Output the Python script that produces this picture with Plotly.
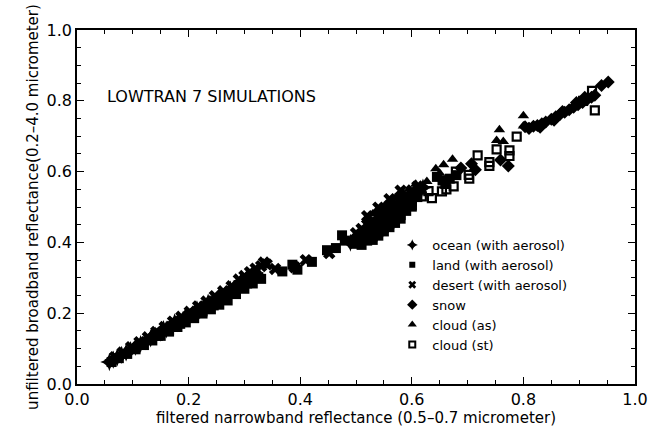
import plotly.graph_objects as go

# ---------------- data ----------------
ocean_x = [0.058, 0.065, 0.072, 0.080, 0.088, 0.096, 0.105, 0.114, 0.123, 0.132,
           0.141, 0.150, 0.160, 0.170, 0.180, 0.190, 0.200, 0.210, 0.220, 0.230,
           0.240, 0.250, 0.260, 0.270, 0.280, 0.290, 0.300, 0.310, 0.320,
           0.135, 0.155, 0.175, 0.195, 0.215, 0.235, 0.255, 0.275, 0.295, 0.315,
           0.490, 0.500, 0.510, 0.520, 0.530, 0.540, 0.550, 0.560, 0.570, 0.580,
           0.590, 0.600, 0.610, 0.620]
ocean_y = [0.062, 0.069, 0.075, 0.082, 0.089, 0.096, 0.105, 0.113, 0.121, 0.129,
           0.137, 0.145, 0.154, 0.163, 0.172, 0.181, 0.190, 0.199, 0.208, 0.217,
           0.226, 0.235, 0.244, 0.253, 0.266, 0.276, 0.287, 0.297, 0.307,
           0.136, 0.155, 0.174, 0.192, 0.211, 0.230, 0.248, 0.267, 0.291, 0.312,
           0.399, 0.411, 0.423, 0.435, 0.447, 0.459, 0.471, 0.483, 0.495, 0.507,
           0.519, 0.531, 0.543, 0.555]

land_x = [0.062, 0.075, 0.090, 0.105, 0.120, 0.135, 0.150, 0.165, 0.180, 0.195,
          0.210, 0.225, 0.240, 0.255, 0.270, 0.285, 0.300, 0.315, 0.330,
          0.145, 0.165, 0.185, 0.205, 0.225, 0.245, 0.265, 0.285, 0.305, 0.325,
          0.368, 0.386, 0.395, 0.421, 0.448, 0.464, 0.475, 0.480,
          0.500, 0.510, 0.520, 0.530, 0.540, 0.550, 0.560, 0.570, 0.580, 0.590,
          0.600, 0.610,
          0.510, 0.520, 0.530, 0.540, 0.550, 0.560, 0.570, 0.580, 0.590, 0.600,
          0.530, 0.540, 0.550, 0.560, 0.570, 0.580,
          0.645, 0.655, 0.668, 0.680, 0.660]
land_y = [0.062, 0.073, 0.085, 0.098, 0.110, 0.123, 0.136, 0.148, 0.161, 0.174,
          0.186, 0.199, 0.211, 0.224, 0.236, 0.254, 0.269, 0.284, 0.297,
          0.136, 0.153, 0.170, 0.188, 0.205, 0.222, 0.240, 0.262, 0.284, 0.302,
          0.318, 0.337, 0.323, 0.345, 0.378, 0.384, 0.420, 0.405,
          0.396, 0.408, 0.420, 0.432, 0.444, 0.456, 0.468, 0.480, 0.492, 0.504,
          0.516, 0.528,
          0.393, 0.405, 0.417, 0.429, 0.441, 0.453, 0.465, 0.477, 0.489, 0.501,
          0.407, 0.419, 0.431, 0.443, 0.455, 0.467,
          0.585, 0.575, 0.580, 0.590, 0.565]

desert_x = [0.068, 0.082, 0.097, 0.112, 0.127, 0.142, 0.157, 0.172, 0.187, 0.202,
            0.217, 0.232, 0.247, 0.262, 0.277, 0.290, 0.300, 0.310, 0.320, 0.330,
            0.340, 0.335,
            0.355, 0.390, 0.452, 0.410,
            0.500, 0.510, 0.520, 0.530, 0.540, 0.550, 0.560, 0.570, 0.580, 0.590,
            0.600, 0.610,
            0.520, 0.540, 0.560, 0.580]
desert_y = [0.076, 0.089, 0.104, 0.118, 0.132, 0.147, 0.161, 0.176, 0.190, 0.204,
            0.219, 0.233, 0.248, 0.262, 0.276, 0.295, 0.305, 0.316, 0.326, 0.333,
            0.338, 0.343,
            0.325, 0.330, 0.370, 0.350,
            0.426, 0.438, 0.450, 0.462, 0.474, 0.486, 0.498, 0.510, 0.522, 0.534,
            0.546, 0.558,
            0.474, 0.498, 0.522, 0.546]

snow_x = [0.759, 0.773, 0.707, 0.714, 0.688,
          0.803, 0.810, 0.818, 0.825, 0.833, 0.840, 0.850, 0.858, 0.866, 0.874,
          0.882, 0.890, 0.898, 0.906, 0.914, 0.922, 0.928,
          0.830, 0.855, 0.870, 0.895, 0.910,
          0.940, 0.952]
snow_y = [0.633, 0.616, 0.622, 0.605, 0.610,
          0.727, 0.722, 0.728, 0.730, 0.735, 0.740, 0.748, 0.755, 0.762, 0.768,
          0.775, 0.782, 0.789, 0.795, 0.803, 0.810, 0.816,
          0.725, 0.745, 0.770, 0.795, 0.810,
          0.843, 0.853]

cloud_as_x = [0.520, 0.540, 0.560, 0.580, 0.595, 0.607, 0.627, 0.643, 0.657, 0.673,
              0.752, 0.764, 0.757, 0.800, 0.800, 0.810, 0.530, 0.550, 0.570, 0.650]
cloud_as_y = [0.465, 0.489, 0.513, 0.537, 0.550, 0.564, 0.572, 0.608, 0.619, 0.635,
              0.688, 0.685, 0.718, 0.758, 0.729, 0.727, 0.480, 0.500, 0.525, 0.595]

cloud_st_x = [0.788, 0.752, 0.775, 0.775, 0.718, 0.739, 0.739, 0.702, 0.703, 0.662,
              0.675, 0.636, 0.654, 0.679, 0.923, 0.928, 0.907, 0.618, 0.630, 0.600]
cloud_st_y = [0.699, 0.663, 0.660, 0.644, 0.646, 0.627, 0.616, 0.591, 0.580, 0.550,
              0.558, 0.525, 0.544, 0.600, 0.828, 0.773, 0.800, 0.530, 0.545, 0.505]

series = [
    ("ocean (with aerosol)", ocean_x, ocean_y, "star-diamond", 13),
    ("land (with aerosol)", land_x, land_y, "square", 10),
    ("desert (with aerosol)", desert_x, desert_y, "x", 11),
    ("snow", snow_x, snow_y, "diamond", 10),
    ("cloud (as)", cloud_as_x, cloud_as_y, "triangle-up", 10),
    ("cloud (st)", cloud_st_x, cloud_st_y, "square-open", 8),
]
legend_sizes = [8, 6, 7, 8, 8, 6]

FONT = "DejaVu Sans"

fig = go.Figure()
for name, xs, ys, sym, sz in series:
    mk = dict(symbol=sym, size=sz, color="black")
    if sym == "square-open":
        mk["line"] = dict(width=2.2, color="black")
    else:
        mk["line"] = dict(width=0)
    fig.add_trace(go.Scatter(x=xs, y=ys, mode="markers", name=name, marker=mk,
                             showlegend=False))

# legend entries (no points), with the small key symbols used in the original
for (name, xs, ys, sym, sz), lsz in zip(series, legend_sizes):
    mk = dict(symbol=sym, size=lsz, color="black")
    if sym == "square-open":
        mk["line"] = dict(width=2, color="black")
    else:
        mk["line"] = dict(width=0)
    fig.add_trace(go.Scatter(x=[None], y=[None], mode="markers", name=name, marker=mk,
                             showlegend=True))

axis_common = dict(
    range=[0, 1], dtick=0.2, tickformat=".1f",
    showgrid=False, zeroline=False,
    showline=True, linecolor="black", linewidth=1.6, mirror="allticks",
    ticks="inside", ticklen=7, tickwidth=1.4, tickcolor="black",
    minor=dict(dtick=0.05, ticks="inside", ticklen=4, tickwidth=1.2, tickcolor="black"),
    tickfont=dict(family=FONT, size=16, color="black"),
)

fig.update_layout(
    width=660, height=436,
    margin=dict(l=77, r=23, t=30, b=44),
    paper_bgcolor="white", plot_bgcolor="white",
    xaxis=dict(axis_common,
               title=dict(text="filtered narrowband reflectance (0.5\u20130.7 micrometer)",
                          font=dict(family=FONT, size=15, color="black"), standoff=4)),
    yaxis=dict(axis_common,
               title=dict(text="unfiltered broadband reflectance(0.2\u20134.0 micrometer)",
                          font=dict(family=FONT, size=15, color="black"), standoff=4)),
    showlegend=True,
    legend=dict(x=0.565, y=0.435, xanchor="left", yanchor="top",
                bgcolor="rgba(0,0,0,0)", borderwidth=0,
                font=dict(family=FONT, size=13, color="black"),
                itemsizing="trace"),
    annotations=[dict(x=0.05, y=0.812, xref="x", yref="y", xanchor="left", yanchor="middle",
                      text="LOWTRAN 7 SIMULATIONS", showarrow=False,
                      font=dict(family=FONT, size=16, color="black"))],
)

fig.write_html("out.html")
